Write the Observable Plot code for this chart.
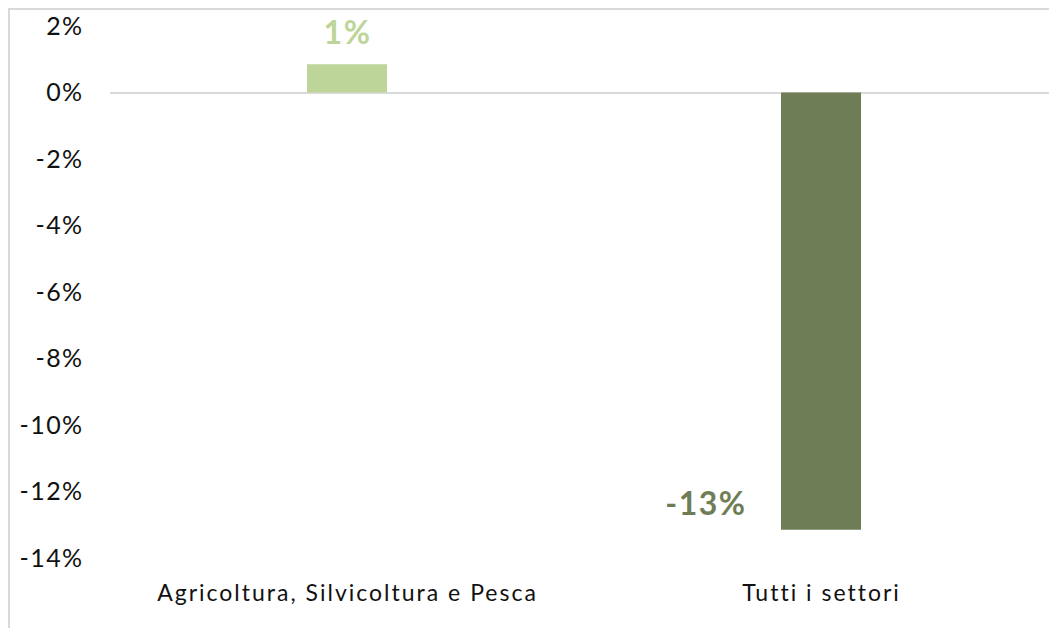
<!DOCTYPE html>
<html>
<head>
<meta charset="utf-8">
<script src="https://cdn.jsdelivr.net/npm/d3@7"></script>
<script src="https://cdn.jsdelivr.net/npm/@observablehq/plot@0.6"></script>
<style>
  html, body { margin: 0; padding: 0; background: #fff; }
  #wrap { position: relative; width: 1049px; height: 628px; overflow: hidden; }
  #frame { position: absolute; left: 8px; top: 8px; right: -10px; bottom: -10px;
           border-top: 2px solid #d9d9d9; border-left: 2px solid #d9d9d9; pointer-events: none; }
  #wrap svg { position: absolute; left: 0; top: 0; }
  .ticklbl text { letter-spacing: 1.4px; }
  .catlbl text { letter-spacing: 2px; }
  .vallbl text { letter-spacing: 1.5px; }
</style>
</head>
<body>
<div id="wrap"><div id="frame"></div></div>
<script>
const categories = ["Agricoltura, Silvicoltura e Pesca", "Tutti i settori"];
const values = [0.85, -13.15];
const valueLabels = ["1%", "-13%"];
const colors = ["#bdd598", "#6e7d55"];
const yTicks = [2, 0, -2, -4, -6, -8, -10, -12, -14];

const data = categories.map((c, i) => ({cat: c, v: values[i], label: valueLabels[i], color: colors[i]}));
const font = "Lato, 'Open Sans', sans-serif";

const chart = Plot.plot({
  width: 1049,
  height: 628,
  marginTop: 26,
  marginBottom: 70,
  marginLeft: 110,
  marginRight: 0,
  style: {fontFamily: font, background: "transparent", overflow: "visible"},
  x: {domain: categories, range: [110, 1058], paddingInner: 0.8312, paddingOuter: 0.4156, axis: null},
  y: {domain: [-14, 2], axis: null},
  marks: [
    Plot.ruleY([0], {stroke: "#d9d9d9", strokeWidth: 2}),
    Plot.barY(data, {x: "cat", y: "v", fill: "color"}),
    Plot.text(yTicks, {y: d => d, text: d => d + "%", frameAnchor: "left", dx: -27, textAnchor: "end", fontSize: 25, fill: "#111", className: "ticklbl"}),
    Plot.text(data.filter(d => d.v > 0), {x: "cat", y: "v", text: "label", dy: -30.5, fontSize: 32, fontWeight: "bold", fill: "color", className: "vallbl"}),
    Plot.text(data.filter(d => d.v < 0), {x: "cat", y: "v", text: "label", dx: -75, dy: -25, textAnchor: "end", fontSize: 32, fontWeight: "bold", fill: "color", className: "vallbl"}),
    Plot.text(data, {x: "cat", text: "cat", frameAnchor: "bottom", dy: 42, fontSize: 23, fill: "#111", className: "catlbl"})
  ]
});
document.getElementById("wrap").insertBefore(chart, document.getElementById("frame"));
</script>
</body>
</html>
